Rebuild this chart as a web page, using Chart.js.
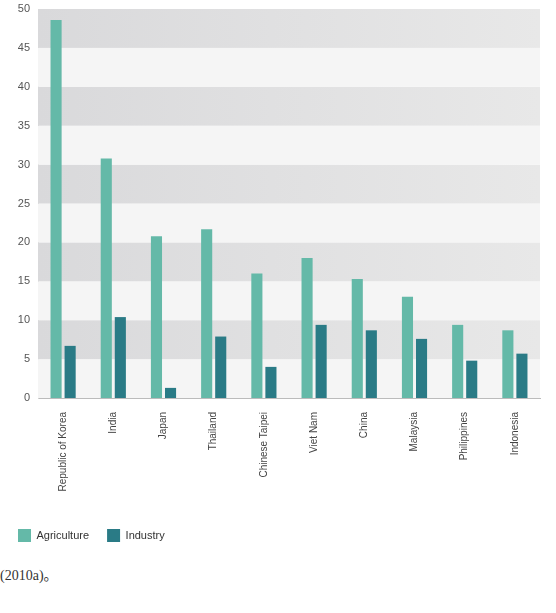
<!DOCTYPE html>
<html>
<head>
<meta charset="utf-8">
<script src="https://cdn.jsdelivr.net/npm/chart.js@4"></script>
<style>
  body { margin: 0; background: #fff; }
  #wrap { position: relative; width: 556px; height: 613px; }
  #chart { position: absolute; left: 0; top: 0; }
  #note { position: absolute; left: 0; top: 564px; font: 14px "Liberation Serif", "Noto Sans CJK SC", serif; color: #333; }
</style>
</head>
<body>
<div id="wrap">
  <canvas id="chart" width="556" height="552"></canvas>
  <div id="note">(2010a)。</div>
</div>
<script>
// data
const countries = ["Republic of Korea", "India", "Japan", "Thailand", "Chinese Taipei",
  "Viet Nam", "China", "Malaysia", "Philippines", "Indonesia"];
const agricultureValues = [48.6, 30.8, 20.8, 21.7, 16.0, 18.0, 15.3, 13.0, 9.4, 8.7];
const industryValues = [6.7, 10.4, 1.3, 7.9, 4.0, 9.4, 8.7, 7.6, 4.8, 5.7];
const yTicks = [0, 5, 10, 15, 20, 25, 30, 35, 40, 45, 50];

// alternating grey bands behind the bars
const bandPlugin = {
  id: "bands",
  beforeDatasetsDraw(chart) {
    const ctx = chart.ctx, area = chart.chartArea, y = chart.scales.y;
    const dark = ctx.createLinearGradient(area.left, 0, area.right, 0);
    dark.addColorStop(0, "#d9d9db");
    dark.addColorStop(1, "#e8e8e8");
    ctx.save();
    for (let i = 0; i < yTicks.length - 1; i++) {
      const top = y.getPixelForValue(yTicks[i + 1]);
      const bottom = y.getPixelForValue(yTicks[i]);
      ctx.fillStyle = (i % 2 === 1) ? dark : "#f5f5f5";
      ctx.fillRect(area.left, top, area.right - area.left, bottom - top);
    }
    ctx.restore();
  }
};

const chart = new Chart("chart", {
  type: "bar",
  data: {
    labels: countries,
    datasets: [{
        label: "Agriculture",
        backgroundColor: "#64b9a8",
        data: agricultureValues
      },
      {
        label: "Industry",
        backgroundColor: "#2a7b86",
        data: industryValues
      }]
  },
  options: {
    responsive: false,
    animation: false,
    layout: { padding: { top: 9, right: 16, left: 0, bottom: 0 } },
    datasets: { bar: { categoryPercentage: 0.56, barPercentage: 0.79 } },
    plugins: {
      tooltip: { enabled: false },
      legend: {
        position: "bottom",
        align: "start",
        labels: {
          boxWidth: 13,
          boxHeight: 13,
          padding: 18,
          color: "#333",
          font: { family: "Liberation Sans", size: 11 }
        }
      }
    },
    scales: {
      x: {
        grid: { display: false },
        border: { color: "#bbbbbb", width: 1 },
        ticks: {
          minRotation: 90,
          maxRotation: 90,
          padding: 6,
          color: "#444",
          font: { family: "Liberation Sans", size: 10 }
        },
        afterFit(scale) { scale.height = 113; }
      },
      y: {
        min: 0,
        max: 50,
        grid: { display: false },
        border: { color: "#d0d0d0", width: 1 },
        ticks: {
          stepSize: 5,
          padding: 0,
          color: "#555",
          font: { family: "Liberation Sans", size: 11 }
        },
        afterFit(scale) {
          scale.width = 38;
          scale.paddingTop = 0;
        }
      }
    }
  },
  plugins: [bandPlugin]
});
</script>
</body>
</html>
